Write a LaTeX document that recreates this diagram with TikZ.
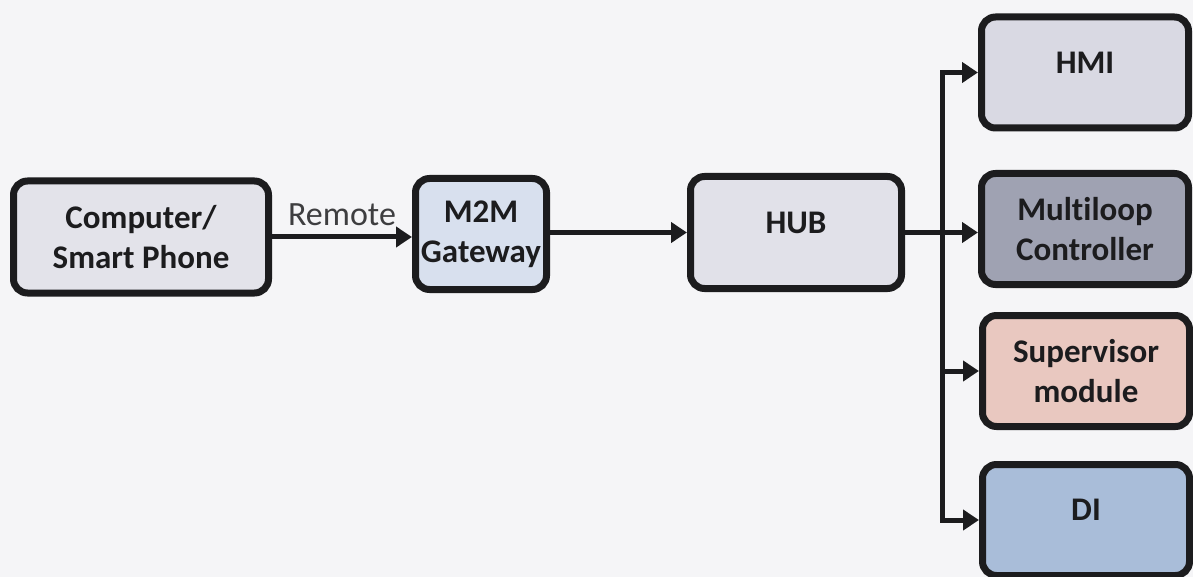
\documentclass[tikz,border=0pt]{standalone}
\usepackage{fontspec}
\setmainfont{Carlito}[Ligatures=NoCommon]
\usetikzlibrary{arrows.meta}
\definecolor{edge}{HTML}{1C1C1E}
\definecolor{paper}{HTML}{F5F5F7}
\definecolor{fillcomp}{HTML}{E3E3EA}
\definecolor{fillgate}{HTML}{D8E0EE}
\definecolor{fillhub}{HTML}{E1E1E9}
\definecolor{fillhmi}{HTML}{D9D9E3}
\definecolor{fillmulti}{HTML}{9FA2B2}
\definecolor{fillsuper}{HTML}{E9C8C0}
\definecolor{filldi}{HTML}{A9BDD9}
\tikzstyle{block} = [draw=edge, line width=3.5pt, rounded corners=7pt, text=edge,
	align=center, inner sep=0pt, font=\bfseries\fontsize{16.5}{20}\selectfont]
\tikzstyle{side} = [block, minimum width=103.5pt, minimum height=55.5pt]
\tikzstyle{oneline} = [text depth=10pt]
\tikzstyle{arrow} = [draw=edge, line width=2.5pt, -{Triangle[length=8pt,width=10pt]}]

\begin{document}
\begin{tikzpicture}[x=0.5pt, y=-0.5pt]
	\useasboundingbox (0,0) rectangle (1193,577);
	\fill[paper] (0,0) rectangle (1193,577);
	
	% main chain
	\node[block, fill=fillcomp, minimum width=127.5pt, minimum height=56pt]
	(comp) at (141,237) {Computer/\\Smart Phone};
	\node[block, fill=fillgate, minimum width=65.5pt, minimum height=55.5pt]
	(gate) at (481,234) {M2M\\Gateway};
	\node[block, oneline, fill=fillhub, minimum width=105.5pt, minimum height=56pt]
	(hub) at (796,232.5) {HUB};
	
	% devices
	\node[side, oneline, fill=fillhmi] (hmi) at (1085,72.5) {HMI};
	\node[side, fill=fillmulti] (multi) at (1085,229) {Multiloop\\Controller};
	\node[side, fill=fillsuper] (super) at (1086,371) {Supervisor\\module};
	\node[side, oneline, fill=filldi] (di) at (1086,520) {DI};
	
	\coordinate (bus) at (942,0);
	
	\draw[arrow] (comp.east) -- (comp.east -| gate.west)
	node[midway, above=1pt, text=edge!85, font=\fontsize{17}{20}\selectfont] (remote) {Remote};
	\draw[arrow] (gate.east |- hub.west) -- (hub.west);
	\draw[arrow] (hub.east) -- (hub.east -| multi.west);
	\draw[arrow] (hmi.west -| bus) |- (di.west);
	\draw[arrow] (di.west -| bus) |- (hmi.west);
	\draw[arrow] (super.west -| bus) -- (super.west);
\end{tikzpicture}
\end{document}
